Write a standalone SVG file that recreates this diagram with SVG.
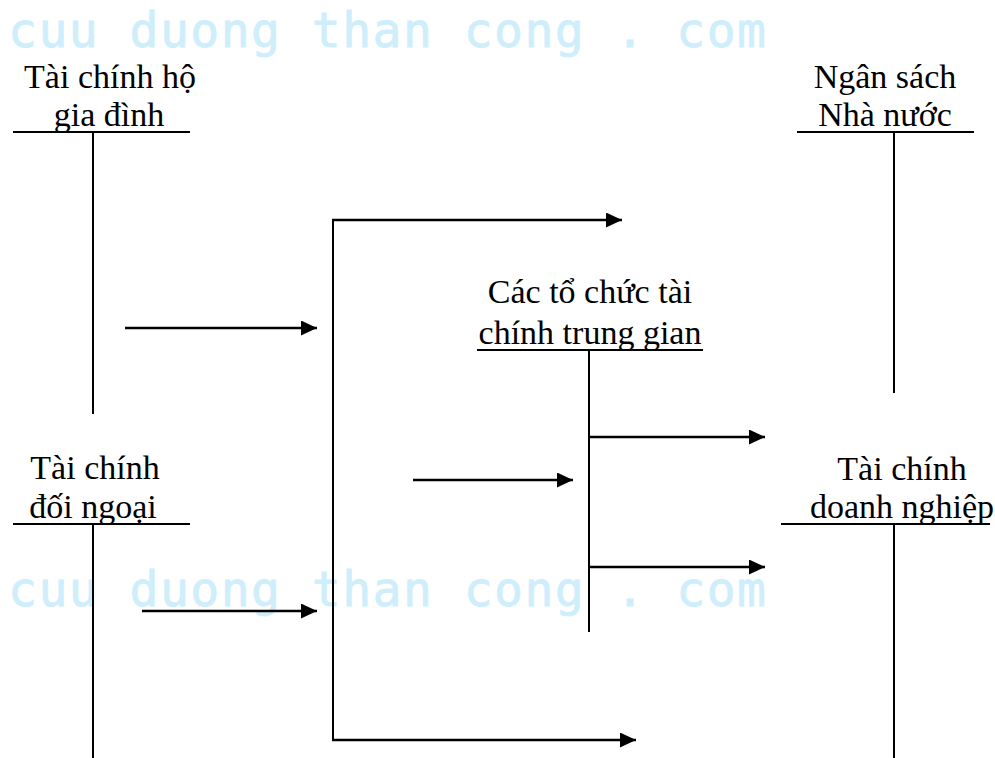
<svg xmlns="http://www.w3.org/2000/svg" width="995" height="758" viewBox="0 0 995 758">
<style>
.lbl{font-family:"Liberation Serif","Times New Roman",serif;font-size:34px;fill:#000;text-anchor:middle}
.wm{font-family:"DejaVu Sans Mono","Liberation Mono",monospace;font-size:48px;fill:#cfeefb;stroke:#cfeefb;stroke-width:0.8}
.ln{stroke:#000;stroke-width:2;fill:none}
.ar{stroke:#000;stroke-width:2.4;fill:none;marker-end:url(#ah)}
</style>
<defs>
<marker id="ah" markerUnits="userSpaceOnUse" markerWidth="17" markerHeight="16" refX="16" refY="7.5" orient="auto">
<path d="M0,0 L16,7.5 L0,15 z" fill="#000"/>
</marker>
</defs>
<rect width="995" height="758" fill="#fff"/>
<g id="watermark">
<text class="wm" x="8" y="47" textLength="758" lengthAdjust="spacing">cuu duong than cong . com</text>
<text class="wm" x="8" y="606" textLength="758" lengthAdjust="spacing">cuu duong than cong . com</text>
</g>
<g id="node-ho-gia-dinh">
<text class="lbl" x="110" y="88">Tài chính hộ</text>
<text class="lbl" x="109" y="126">gia đình</text>
<line class="ln" x1="13" y1="132" x2="190" y2="132"/>
<line class="ln" x1="93" y1="132" x2="93" y2="414"/>
</g>
<g id="node-ngan-sach">
<text class="lbl" x="885" y="88">Ngân sách</text>
<text class="lbl" x="885" y="126">Nhà nước</text>
<line class="ln" x1="797" y1="132" x2="974" y2="132"/>
<line class="ln" x1="894" y1="132" x2="894" y2="393"/>
</g>
<g id="node-trung-gian">
<text class="lbl" x="590" y="303">Các tổ chức tài</text>
<text class="lbl" x="590" y="344">chính trung gian</text>
<line class="ln" x1="477" y1="350" x2="703" y2="350"/>
<line class="ln" x1="589" y1="350" x2="589" y2="632"/>
</g>
<g id="node-doi-ngoai">
<text class="lbl" x="95" y="479">Tài chính</text>
<text class="lbl" x="93" y="518">đối ngoại</text>
<line class="ln" x1="13" y1="524" x2="190" y2="524"/>
<line class="ln" x1="93" y1="524" x2="93" y2="758"/>
</g>
<g id="node-doanh-nghiep">
<text class="lbl" x="902" y="480">Tài chính</text>
<text class="lbl" x="902" y="518">doanh nghiệp</text>
<line class="ln" x1="781" y1="524" x2="990" y2="524"/>
<line class="ln" x1="894" y1="524" x2="894" y2="758"/>
</g>
<g id="connectors">
<line class="ln" x1="333" y1="219" x2="333" y2="741"/>
<line class="ar" x1="332" y1="220" x2="622" y2="220"/>
<line class="ar" x1="332" y1="740" x2="636" y2="740"/>
<line class="ar" x1="125" y1="328" x2="317" y2="328"/>
<line class="ar" x1="142" y1="611" x2="317" y2="611"/>
<line class="ar" x1="413" y1="480" x2="573" y2="480"/>
<line class="ar" x1="589" y1="437" x2="765" y2="437"/>
<line class="ar" x1="589" y1="567" x2="765" y2="567"/>
</g>
</svg>
